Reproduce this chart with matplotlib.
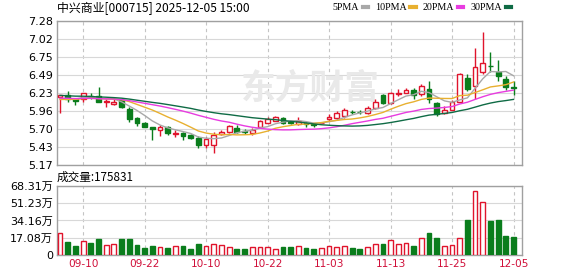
import numpy as np
import pandas as pd
import matplotlib
matplotlib.use("Agg")
import matplotlib.pyplot as plt
from matplotlib.lines import Line2D

# ----------------------------
# Data
# ----------------------------
TITLE = "中兴商业[000715] 2025-12-05 15:00"
VOL_TEXT = "成交量:175831"

# 29 closes before the first visible bar, only used to warm up the moving averages
pre_closes = [6.30, 6.28, 6.25, 6.29, 6.27, 6.24, 6.28, 6.26, 6.25, 6.28,
              6.20, 6.18, 6.15, 6.17, 6.19, 6.16, 6.14, 6.18, 6.17, 6.16,
              6.13, 6.10, 6.12, 6.11, 6.14,
              6.12, 6.15, 6.11, 6.13]

opens = [6.17, 6.19, 6.13, 6.13, 6.18, 6.18, 6.10, 6.06, 6.12, 5.99,
         5.86, 5.79, 5.73, 5.68, 5.73, 5.62, 5.64, 5.61, 5.56, 5.47,
         5.47, 5.62, 5.65, 5.71, 5.665, 5.64, 5.73, 5.79, 5.82, 5.86,
         5.80, 5.77, 5.78, 5.765, 5.78, 5.84, 5.86, 5.89, 5.95, 5.95,
         5.93, 6.00, 6.20, 6.08, 6.21, 6.23, 6.265, 6.21, 6.285, 6.08,
         5.93, 5.98, 6.10, 6.45, 6.33, 6.535, 6.62, 6.535, 6.43, 6.31]
closes = [6.19, 6.14, 6.11, 6.22, 6.16, 6.10, 6.10, 6.10, 6.02, 5.85,
          5.78, 5.73, 5.70, 5.72, 5.64, 5.64, 5.60, 5.56, 5.46, 5.55,
          5.61, 5.65, 5.74, 5.66, 5.66, 5.69, 5.81, 5.84, 5.87, 5.78,
          5.79, 5.82, 5.77, 5.76, 5.79, 5.88, 5.93, 5.98, 5.94, 5.94,
          6.00, 6.10, 6.08, 6.23, 6.22, 6.27, 6.20, 6.33, 6.14, 5.91,
          5.97, 6.09, 6.51, 6.29, 6.61, 6.67, 6.62, 6.48, 6.32, 6.30]
highs = [6.20, 6.26, 6.15, 6.22, 6.22, 6.31, 6.13, 6.13, 6.13, 6.02,
         5.88, 5.80, 5.73, 5.75, 5.74, 5.69, 5.66, 5.63, 5.59, 5.58,
         5.65, 5.69, 5.76, 5.76, 5.70, 5.71, 5.83, 5.87, 5.89, 5.88,
         5.82, 5.88, 5.80, 5.79, 5.80, 5.91, 5.965, 6.01, 5.98, 5.97,
         6.04, 6.13, 6.21, 6.245, 6.285, 6.30, 6.30, 6.36, 6.40, 6.10,
         6.03, 6.12, 6.52, 6.51, 6.89, 7.12, 6.82, 6.71, 6.48, 6.40]
lows = [5.93, 6.09, 6.05, 6.09, 6.13, 6.10, 6.02, 6.05, 6.00, 5.80,
        5.74, 5.73, 5.53, 5.60, 5.61, 5.58, 5.53, 5.55, 5.42, 5.42,
        5.34, 5.61, 5.64, 5.64, 5.63, 5.61, 5.72, 5.78, 5.81, 5.77,
        5.77, 5.75, 5.72, 5.73, 5.77, 5.82, 5.83, 5.86, 5.91, 5.92,
        5.91, 5.99, 6.07, 6.07, 6.18, 6.22, 6.13, 6.18, 6.08, 5.89,
        5.91, 5.97, 6.09, 6.25, 6.13, 6.50, 6.54, 6.40, 6.27, 6.19]
# volume in 万 (10k shares)
volumes = [21.7, 13.0, 9.0, 13.7, 12.0, 16.0, 10.0, 10.7, 16.0, 16.0,
           10.0, 7.3, 9.0, 8.0, 7.3, 9.0, 9.0, 6.3, 11.0, 9.0,
           10.7, 10.0, 8.3, 6.3, 6.3, 8.0, 8.0, 8.0, 6.0, 7.7,
           7.7, 8.7, 7.0, 6.0, 7.0, 8.7, 8.0, 8.7, 7.0, 6.0,
           8.0, 10.7, 11.0, 15.0, 10.7, 11.7, 9.0, 16.7, 22.0, 17.0,
           9.0, 10.0, 16.7, 35.0, 63.7, 52.7, 33.3, 35.0, 19.0, 17.5831]

price_ticks = [5.17, 5.43, 5.70, 5.96, 6.23, 6.49, 6.75, 7.02, 7.28]
vol_ticks = [0, 17.08, 34.16, 51.23, 68.31]
vol_tick_labels = ["0", "17.08万", "34.16万", "51.23万", "68.31万"]
date_labels = ["09-10", "09-22", "10-10", "10-22", "11-03", "11-13", "11-25", "12-05"]

ma_periods = [5, 10, 20, 30]
ma_colors = ["#a8a8a8", "#e8b030", "#e83ce0", "#0f6b45"]

RED = "#e0142c"
GREEN = "#0a7d1c"

# trading days (National Day holiday removed)
days = pd.bdate_range("2025-09-05", "2025-12-05")
days = days[(days < "2025-10-01") | (days > "2025-10-08")]
day_str = list(days.strftime("%m-%d"))

# ----------------------------
# Derived values
# ----------------------------
o = np.array(opens)
c = np.array(closes)
h = np.array(highs)
l = np.array(lows)
v = np.array(volumes)
n = len(c)
x = np.arange(n)
prev = np.concatenate([[pre_closes[-1]], c[:-1]])
up = (c > o) | ((c == o) & (c >= prev))

all_closes = pd.Series(pre_closes + closes)
mas = [all_closes.rolling(p).mean().to_numpy()[-n:] for p in ma_periods]

tick_pos = [day_str.index(d) for d in date_labels]

# ----------------------------
# Figure
# ----------------------------
plt.rcParams["font.family"] = ["DejaVu Sans", "Noto Sans CJK SC"]
fig = plt.figure(figsize=(5.78, 2.76), dpi=100)
W, H = 578, 276
ax = fig.add_axes([57 / W, 1 - 165 / H, 465 / W, 144 / H])
axv = fig.add_axes([57 / W, 1 - 255 / H, 465 / W, 69 / H])

frame = "#a0a0a0"
for a in (ax, axv):
    for s in a.spines.values():
        s.set_color(frame)
        s.set_linewidth(1.0)
    a.set_xlim(-0.4, n + 0.1)
    a.tick_params(length=0, labelsize=8, pad=3)
    for t in tick_pos:
        a.axvline(t, color="#c4c4c4", lw=0.8, ls=(0, (3, 3)), zorder=0)

# watermark
ax.text(0.545, 0.535, "东方财富", transform=ax.transAxes, fontsize=25,
        family=["Noto Sans CJK SC"], fontweight="bold", color="#e9e9e9",
        ha="center", va="center", zorder=0.5)

# price panel
ax.set_ylim(price_ticks[0], price_ticks[-1])
ax.set_yticks(price_ticks)
ax.set_yticklabels([f"{p:.2f}" for p in price_ticks])
ax.set_xticks([])
for p in price_ticks:
    ax.axhline(p, color="#d8d8d8", lw=0.8, zorder=0)

col = np.where(up, RED, GREEN)
ax.vlines(x, l, h, colors=col, lw=1.0, zorder=2)
body_lo = np.minimum(o, c)
body_h = np.maximum(np.abs(c - o), 0.004)
ax.bar(x, body_h, bottom=body_lo, width=0.62,
       color=np.where(up, "white", GREEN), edgecolor=col, lw=1.0, zorder=3)

for ma, mc in zip(mas, ma_colors):
    ax.plot(x, ma, color=mc, lw=1.0, zorder=4)

# volume panel
axv.set_ylim(0, vol_ticks[-1])
axv.set_yticks(vol_ticks)
axv.set_yticklabels(vol_tick_labels)
for t in vol_ticks:
    axv.axhline(t, color="#d8d8d8", lw=0.8, zorder=0)
axv.bar(x, v, width=0.62, color=np.where(up, "white", GREEN),
        edgecolor=col, lw=1.0, zorder=3)
axv.set_xticks(tick_pos)
axv.set_xticklabels(date_labels, color="#d0103a", fontsize=7.6)

# texts
fig.text(57 / W, 1 - 8 / H, TITLE, fontsize=8.6, family=["Noto Sans CJK SC", "DejaVu Sans"],
         ha="left", va="center")
fig.text(57 / W, 1 - 177 / H, VOL_TEXT, fontsize=8.4, family=["Noto Sans CJK SC", "DejaVu Sans"],
         ha="left", va="center")

handles = [Line2D([], [], color=mc, lw=3) for mc in ma_colors]
labels = [f"{p}PMA" for p in ma_periods]
fig.legend(handles, labels, loc="center right", bbox_to_anchor=(511 / W, 1 - 8 / H),
           ncol=4, frameon=False, markerfirst=False, handlelength=0.55,
           handletextpad=0.35, columnspacing=0.7, borderpad=0, borderaxespad=0,
           prop={"family": "Liberation Serif", "size": 7.2})

fig.savefig("out.png", dpi=100)
